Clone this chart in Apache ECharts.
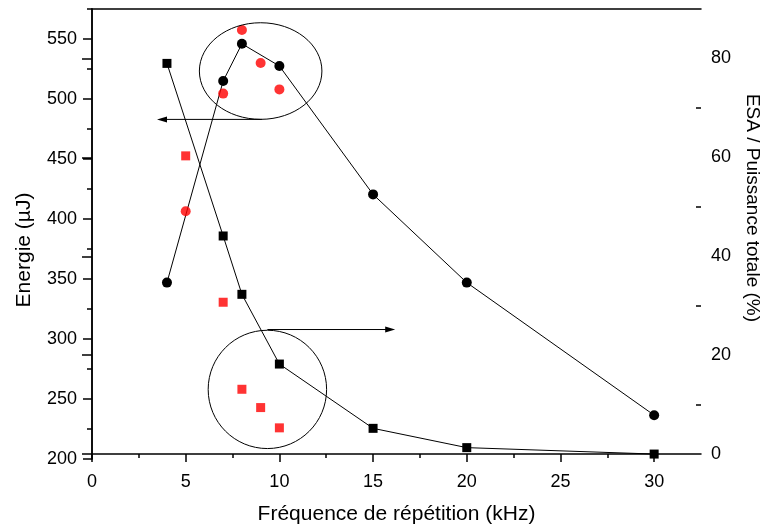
<!DOCTYPE html>
<html><head><meta charset="utf-8">
<script src="https://cdn.jsdelivr.net/npm/echarts@6/dist/echarts.min.js"></script>
<style>html,body{margin:0;padding:0;background:#fff}#c{width:762px;height:531px}</style>
</head><body><div id="c"></div>
<script>
// ---- data ----
const freq = [4, 7, 8, 10, 15, 20, 30];
const energyBlack = [347, 515, 546, 527.5, 420.5, 347, 236.5];
const esaBlack = [79.0, 44.1, 32.3, 18.2, 5.2, 1.3, 0];
const freqRed = [5, 7, 8, 9, 10];
const energyRed = [406.5, 504.5, 557.5, 530, 508];
const esaRed = [60.3, 30.7, 13.1, 9.4, 5.3];

const xTicks = [0, 5, 10, 15, 20, 25, 30];
const xMinor = [2.5, 7.5, 12.5, 17.5, 22.5, 27.5];
const yLeftTicks = [200, 250, 300, 350, 400, 450, 500, 550];
const yLeftMinor = [225, 275, 325, 375, 425, 475, 525, 575];
const yRightTicks = [0, 20, 40, 60, 80];
const yRightMinor = [10, 30, 50, 70];

// annotations in data units (x, energy)
const ellipseTop = {x: 9.0, y: 523.3, rx: 3.27, ry: 40.25};
const ellipseBottom = {x: 9.36, y: 258, rx: 3.16, ry: 49.3};
const arrowLeft = {from: [9.06, 483], to: [3.47, 483]};
const arrowRight = {from: [9.36, 307.9], to: [16.18, 307.9]};

const FONT = 'Liberation Sans, Arial, sans-serif';
const pair = (xs, ys) => xs.map((x, i) => [x, ys[i]]);

const chart = echarts.init(document.getElementById('c'), null, {renderer: 'canvas'});
const black = '#000';
const lineStyleAxis = {color: black, width: 1.5};

chart.setOption({
  animation: false,
  backgroundColor: '#fff',
  grid: {left: 92, right: 61, top: 9, bottom: 72, containLabel: false},
  xAxis: [
    {type: 'value', min: 0, max: 32.5, position: 'bottom',
     axisLine: {show: true, lineStyle: lineStyleAxis},
     axisTick: {show: true, customValues: xTicks, length: 8, inside: false, lineStyle: {color: black, width: 1.5}},
     axisLabel: {show: true, customValues: xTicks, margin: 14, color: black, fontSize: 18, fontFamily: FONT},
     splitLine: {show: false},
     name: 'Fréquence de répétition (kHz)', nameLocation: 'middle', nameGap: 45,
     nameTextStyle: {color: black, fontSize: 21, fontFamily: FONT}},
    {type: 'value', min: 0, max: 32.5, position: 'bottom',
     axisLine: {show: false},
     axisTick: {show: true, customValues: xMinor, length: 4, inside: false, lineStyle: {color: black, width: 1.5}},
     axisLabel: {show: false}, splitLine: {show: false}},
    {type: 'value', min: 0, max: 32.5, position: 'top',
     axisLine: {show: true, lineStyle: lineStyleAxis},
     axisTick: {show: false}, axisLabel: {show: false}, splitLine: {show: false}}
  ],
  yAxis: [
    {type: 'value', min: 200, max: 575, position: 'left',
     axisLine: {show: true, lineStyle: lineStyleAxis},
     axisTick: {show: true, customValues: yLeftTicks, length: 9, inside: false, lineStyle: {color: black, width: 1.5}},
     axisLabel: {show: true, customValues: yLeftTicks, margin: 15, color: black, fontSize: 18, fontFamily: FONT},
     splitLine: {show: false}},
    {type: 'value', min: -1, max: 90, position: 'right',
     axisLine: {show: true, lineStyle: lineStyleAxis},
     axisTick: {show: true, customValues: yRightTicks, length: 10, inside: true, lineStyle: {color: black, width: 1.5}},
     axisLabel: {show: true, customValues: yRightTicks, margin: 10, color: black, fontSize: 18, fontFamily: FONT},
     splitLine: {show: false}},
    {type: 'value', min: 200, max: 575, position: 'left',
     axisLine: {show: false},
     axisTick: {show: true, customValues: yLeftMinor, length: 5, inside: false, lineStyle: {color: black, width: 1.5}},
     axisLabel: {show: false}, splitLine: {show: false}},
    {type: 'value', min: -1, max: 90, position: 'right',
     axisLine: {show: false},
     axisTick: {show: true, customValues: yRightMinor, length: 5, inside: true, lineStyle: {color: black, width: 1.5}},
     axisLabel: {show: false}, splitLine: {show: false}}
  ],
  series: [
    {name: 'Energie', type: 'line', xAxisIndex: 0, yAxisIndex: 0, data: pair(freq, energyBlack),
     symbol: 'circle', symbolSize: 10, itemStyle: {color: black},
     lineStyle: {color: black, width: 1}, z: 3},
    {name: 'Energie (rouge)', type: 'scatter', xAxisIndex: 0, yAxisIndex: 0, data: pair(freqRed, energyRed),
     symbol: 'circle', symbolSize: 10, itemStyle: {color: '#ff0000'}, z: 3},
    {name: 'ESA', type: 'line', xAxisIndex: 0, yAxisIndex: 1, data: pair(freq, esaBlack),
     symbol: 'rect', symbolSize: 9, itemStyle: {color: black},
     lineStyle: {color: black, width: 1}, z: 3},
    {name: 'ESA (rouge)', type: 'scatter', xAxisIndex: 0, yAxisIndex: 1, data: pair(freqRed, esaRed),
     symbol: 'rect', symbolSize: 9, itemStyle: {color: '#ff0000'}, z: 3}
  ]
});

function px(p) { return chart.convertToPixel({xAxisIndex: 0, yAxisIndex: 0}, p); }
function ellipseEl(e) {
  const c = px([e.x, e.y]);
  const r = px([e.x + e.rx, e.y + e.ry]);
  return {type: 'ellipse', shape: {cx: c[0], cy: c[1], rx: Math.abs(r[0] - c[0]), ry: Math.abs(r[1] - c[1])},
          style: {fill: 'none', stroke: black, lineWidth: 1}, z: 10, silent: true};
}
function arrowEls(a) {
  const f = px(a.from), t = px(a.to);
  const dir = Math.sign(t[0] - f[0]);
  const L = 10, W = 3;
  return [
    {type: 'line', shape: {x1: f[0], y1: f[1], x2: t[0] - dir * L * 0.6, y2: t[1]},
     style: {stroke: black, lineWidth: 1}, z: 10, silent: true},
    {type: 'polygon', shape: {points: [[t[0], t[1]], [t[0] - dir * L, t[1] - W], [t[0] - dir * L, t[1] + W]]},
     style: {fill: black}, z: 10, silent: true}
  ];
}

chart.setOption({
  graphic: [
    ellipseEl(ellipseTop),
    ellipseEl(ellipseBottom),
    ...arrowEls(arrowLeft),
    ...arrowEls(arrowRight),
    {type: 'text', x: 24, y: 250, rotation: Math.PI / 2,
     style: {text: 'Energie (µJ)', fill: black, font: '21px ' + FONT, align: 'center', verticalAlign: 'middle'}, z: 10},
    {type: 'text', x: 752, y: 208, rotation: -Math.PI / 2,
     style: {text: 'ESA / Puissance totale (%)', fill: black, font: '19px ' + FONT, align: 'center', verticalAlign: 'middle'}, z: 10}
  ]
});
</script>
</body></html>
